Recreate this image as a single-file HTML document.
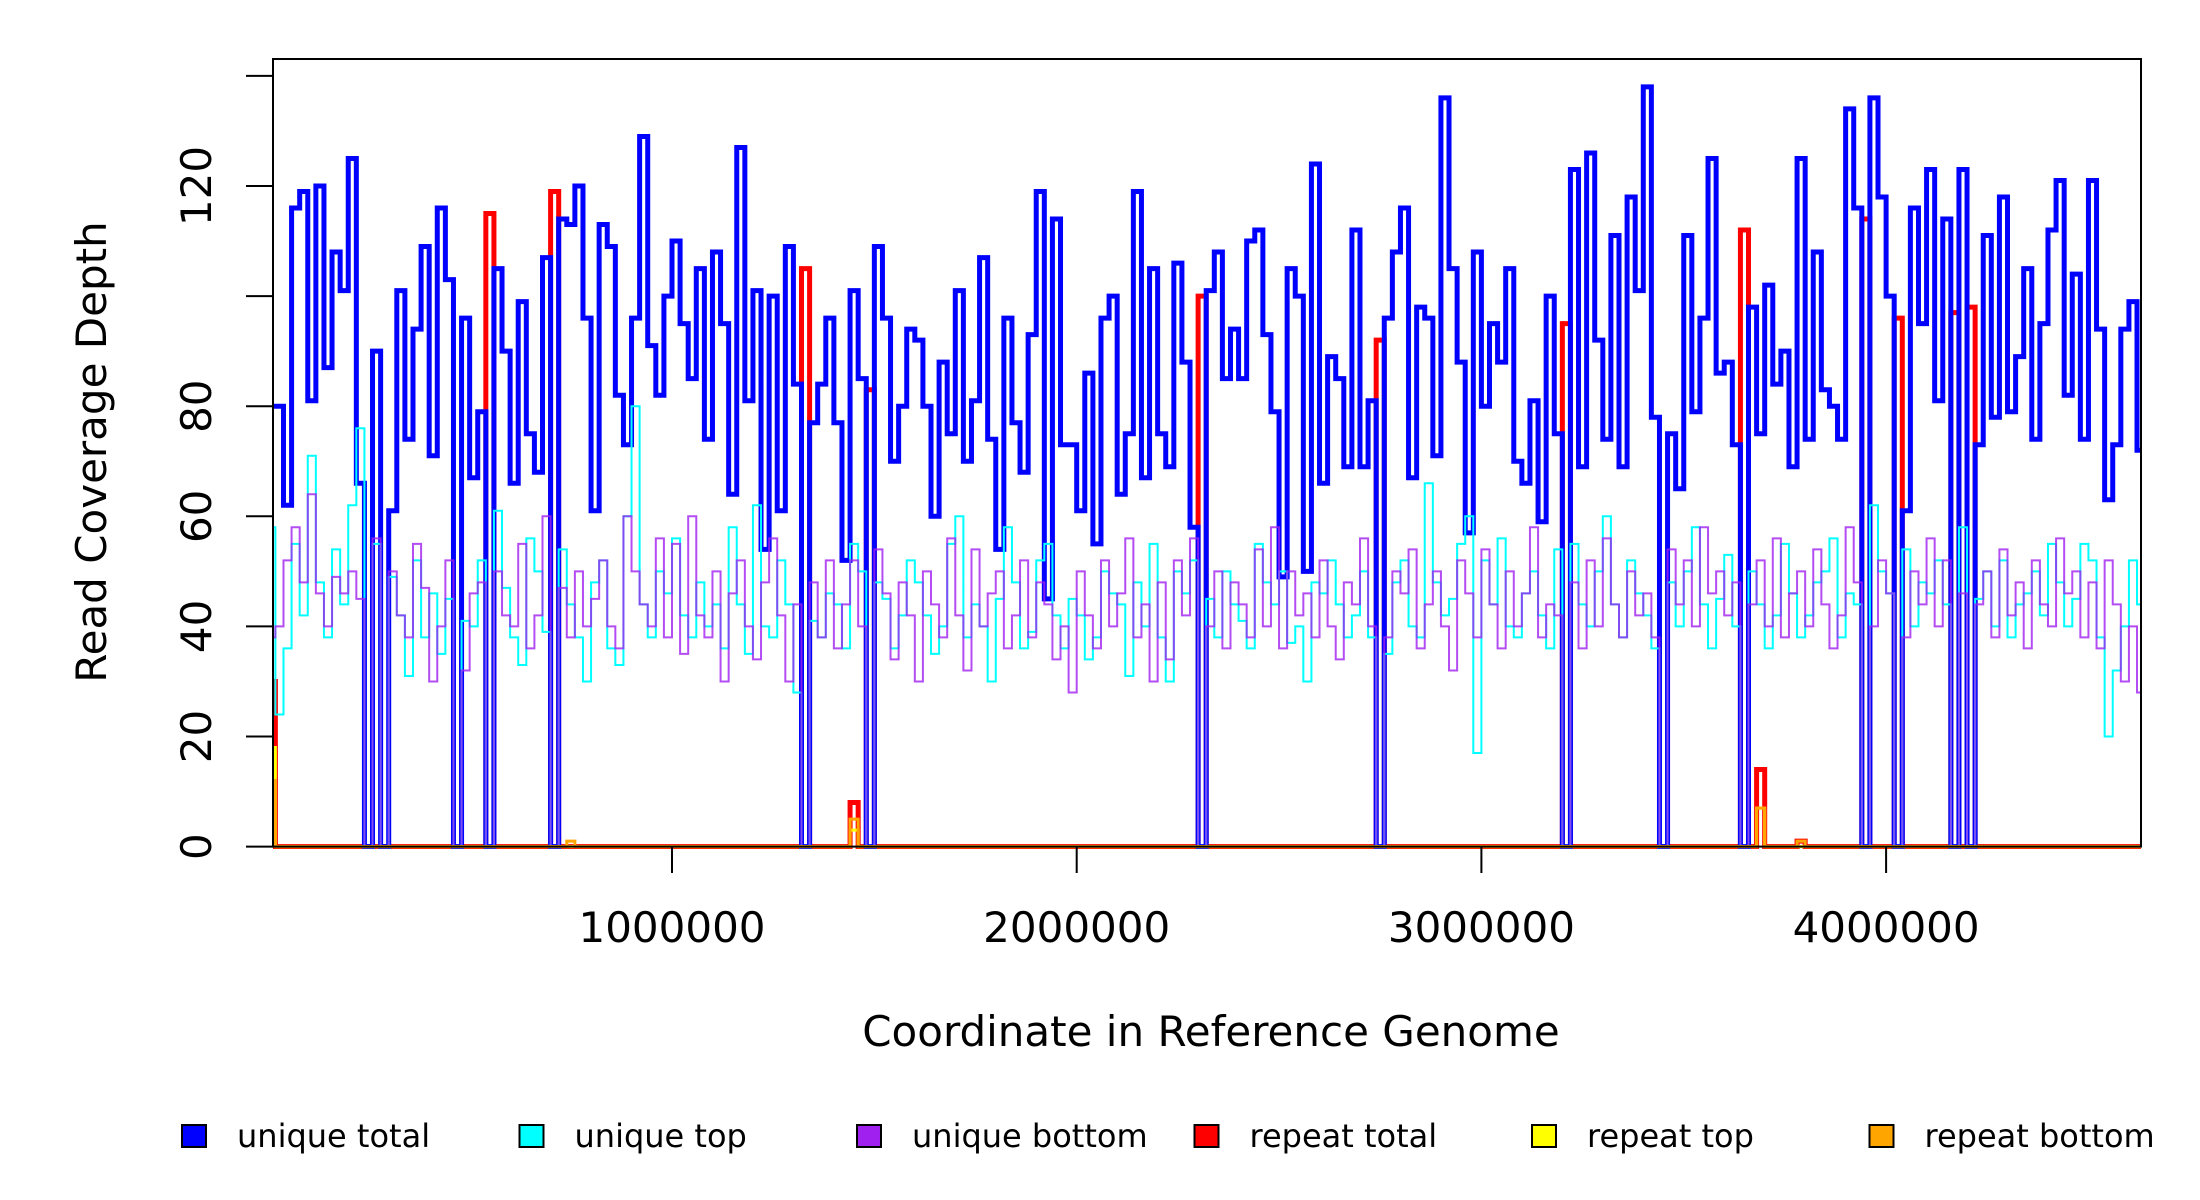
<!DOCTYPE html>
<html><head><meta charset="utf-8"><style>
html,body{margin:0;padding:0;background:#fff;}
svg{display:block;}
text{font-family:"DejaVu Sans","Liberation Sans",sans-serif;fill:#000;}
</style></head>
<body>
<svg id="chart" width="2200" height="1200" viewBox="0 0 2200 1200" xmlns="http://www.w3.org/2000/svg">
<defs><clipPath id="plotclip"><rect x="273" y="59" width="1868" height="790"/></clipPath></defs>
<rect x="0" y="0" width="2200" height="1200" fill="#fff"/>
<g id="series" clip-path="url(#plotclip)"></g>
<rect x="273" y="59" width="1868" height="787.6" fill="none" stroke="#000" stroke-width="2"/>
<g id="yaxis"></g>
<g id="xaxis"></g>
<text x="106" y="452" font-size="42" text-anchor="middle" transform="rotate(-90 106 452)">Read Coverage Depth</text>
<text x="1211" y="1046" font-size="42" text-anchor="middle">Coordinate in Reference Genome</text>
<g id="legend"></g>
</svg>
<script>
const binSize = 20000;
const uniqueTotal = [80,
80,62,116,119,81,120,87,108,101,125,66,0,90,0,61,101,74,94,109,71,116,103,0,96,67,79,0,105,90,66,99,75,68,107,0,114,113,120,96,61,113,109,82,73,96,129,91,82,100,110,
95,
85,105,74,108,95,64,127,81,101,54,100,61,109,84,0,77,84,96,77,52,101,85,0,109,96,70,80,94,92,80,60,88,75,101,70,81,107,74,54,96,77,68,93,119,45,114,73,
73,61,86,55,96,100,64,75,119,67,105,75,69,106,88,58,0,101,108,85,94,85,110,112,93,79,49,105,100,50,124,66,89,85,69,112,69,81,0,96,108,116,67,98,96,71,136,105,88,
57,108,80,95,88,105,70,66,81,59,100,75,0,123,69,126,92,74,111,69,118,101,138,78,0,75,65,111,79,96,125,86,88,73,0,98,75,102,84,90,69,125,74,108,83,80,74,134,
116,0,136,118,100,0,61,116,95,123,81,114,0,123,0,73,111,78,118,79,89,105,74,95,112,121,82,104,74,121,94,63,73,94,99,72];
const uniqueTop = [58,24,36,55,42,71,48,38,54,44,62,76,0,55,0,49,42,31,52,38,46,35,45,0,41,40,52,0,61,47,38,33,56,50,39,0,54,44,38,30,48,52,36,33,60,80,44,38,50,46,56,42,38,48,40,44,36,58,44,35,62,40,38,52,44,28,0,41,38,46,44,36,55,50,0,48,45,36,42,52,48,42,35,40,55,60,38,44,40,30,45,58,48,36,39,52,55,42,36,45,42,34,38,50,46,44,31,48,40,55,38,30,50,46,52,0,45,38,50,44,41,36,55,48,44,50,37,40,30,48,46,52,44,38,42,50,38,0,35,48,52,40,38,66,48,42,45,55,60,17,52,44,56,40,38,46,50,42,36,54,0,55,44,40,50,60,44,38,52,46,42,36,0,48,40,50,58,44,36,45,53,40,0,50,44,36,42,55,46,38,42,48,50,56,38,46,44,0,62,50,46,0,54,40,48,46,52,44,0,58,0,45,50,40,52,38,44,46,50,42,55,48,40,45,55,52,38,20,32,40,52,44];
const uniqueBottom = [38,40,52,58,48,64,46,40,49,46,50,45,0,56,0,50,42,38,55,47,30,40,52,0,32,46,48,0,50,42,40,55,36,42,60,0,47,38,50,40,45,52,40,36,60,50,44,40,56,38,55,35,60,42,38,50,30,46,52,40,34,48,56,42,30,44,0,48,38,52,36,44,52,40,0,54,46,34,48,42,30,50,44,38,56,42,32,54,40,46,50,36,42,52,38,48,44,34,40,28,50,42,36,52,40,46,56,38,44,30,48,34,52,42,56,0,40,50,36,48,44,38,54,40,58,36,50,42,46,38,52,40,34,48,44,56,40,0,38,50,46,54,36,44,50,40,32,52,46,38,54,44,36,50,40,46,58,38,44,42,0,48,36,52,40,56,44,38,50,42,46,38,0,54,44,52,40,58,46,50,42,48,0,44,52,40,56,38,46,50,40,54,44,36,42,58,48,0,40,52,46,0,38,50,44,56,40,52,0,46,0,44,50,38,54,42,48,36,52,44,40,56,46,50,38,48,36,52,44,30,40,28];
const repeatTotalBins = [0,27,35,66,72,74,115,137,160,182,184,189,197,201,208,210];
const repeatTotalVals = [30,115,119,105,8,83,100,92,95,112,14,1,114,96,97,98];
const repeatTopBins = [0,72,184];
const repeatTopVals = [18,3,7];
const repeatBottomBins = [0,37,72,184,189];
const repeatBottomVals = [12,1,5,7,1];
const yTicks = [0,20,40,60,80,100,120,140];
const yTickLabels = ["0","20","40","60","80","","120",""];
const xTicks = [1000000,2000000,3000000,4000000];
const xTickLabels = ["1000000","2000000","3000000","4000000"];
const legendLabels = ["unique total","unique top","unique bottom","repeat total","repeat top","repeat bottom"];
const legendColors = ["#0000ff","#00ffff","#a020f0","#ff0000","#ffff00","#ffa500"];

const NS = "http://www.w3.org/2000/svg";
function xs(g){ return 672 + (g - 1000000) * 404.7e-6; }
function ys(v){ return 846.6 - v * 5.505; }
function expand(bins, vals){ const a = new Array(uniqueTotal.length).fill(0); bins.forEach((b,i)=>{ a[b] = vals[i]; }); return a; }
function stepPath(arr){
  let d = "M" + xs(0).toFixed(2) + " " + ys(arr[0]).toFixed(2);
  for (let i = 0; i < arr.length; i++){
    d += " H" + xs((i+1)*binSize).toFixed(2);
    if (i + 1 < arr.length) d += " V" + ys(arr[i+1]).toFixed(2);
  }
  return d;
}
const series = document.getElementById("series");
function addSeries(arr, color, w, name, op){
  const p = document.createElementNS(NS, "path");
  p.setAttribute("d", stepPath(arr));
  p.setAttribute("fill", "none");
  p.setAttribute("stroke", color);
  p.setAttribute("stroke-width", w);
  p.setAttribute("stroke-linejoin", "miter");
  if (op) p.setAttribute("stroke-opacity", op);
  
  
  series.appendChild(p);
}
addSeries(expand(repeatTotalBins, repeatTotalVals), "#ff0000", 5, "repeat-total-line");
addSeries(uniqueTotal, "#0000ff", 5, "unique-total-line");
addSeries(uniqueTop, "#00ffff", 2, "unique-top-line");
addSeries(uniqueBottom, "#a020f0", 2, "unique-bottom-line", 0.8);
addSeries(expand(repeatTopBins, repeatTopVals), "#ffff00", 3, "repeat-top-line");
addSeries(expand(repeatBottomBins, repeatBottomVals), "#ffa500", 3, "repeat-bottom-line");

const yaxis = document.getElementById("yaxis");
yTicks.forEach((t,i)=>{
  const y = ys(t);
  const l = document.createElementNS(NS, "line");
  l.setAttribute("x1", 246); l.setAttribute("x2", 273);
  l.setAttribute("y1", y); l.setAttribute("y2", y);
  l.setAttribute("stroke", "#000"); l.setAttribute("stroke-width", 2);
  
  
  yaxis.appendChild(l);
  if (yTickLabels[i]) {
    const tx = document.createElementNS(NS, "text");
    tx.setAttribute("x", 211); tx.setAttribute("y", y);
    tx.setAttribute("font-size", 42);
    tx.setAttribute("text-anchor", "middle");
    tx.setAttribute("transform", "rotate(-90 211 " + y + ")");
    tx.textContent = yTickLabels[i];
    
    
    yaxis.appendChild(tx);
  }
});
const xaxis = document.getElementById("xaxis");
xTicks.forEach((t,i)=>{
  const x = xs(t);
  const l = document.createElementNS(NS, "line");
  l.setAttribute("x1", x); l.setAttribute("x2", x);
  l.setAttribute("y1", 846.6); l.setAttribute("y2", 873);
  l.setAttribute("stroke", "#000"); l.setAttribute("stroke-width", 2);
  
  
  xaxis.appendChild(l);
  const tx = document.createElementNS(NS, "text");
  tx.setAttribute("x", x); tx.setAttribute("y", 942);
  tx.setAttribute("font-size", 42);
  tx.setAttribute("text-anchor", "middle");
  tx.textContent = xTickLabels[i];
  
  
  xaxis.appendChild(tx);
});
const legend = document.getElementById("legend");
legendLabels.forEach((lab,i)=>{
  const x0 = 182 + i * 337.5;
  const r = document.createElementNS(NS, "rect");
  r.setAttribute("x", x0); r.setAttribute("y", 1125);
  r.setAttribute("width", 24); r.setAttribute("height", 22);
  r.setAttribute("fill", legendColors[i]);
  r.setAttribute("stroke", "#000"); r.setAttribute("stroke-width", 2);
  
  
  legend.appendChild(r);
  const tx = document.createElementNS(NS, "text");
  tx.setAttribute("x", x0 + 55); tx.setAttribute("y", 1147);
  tx.setAttribute("font-size", 32);
  tx.textContent = lab;
  
  
  legend.appendChild(tx);
});
</script>
</body></html>
